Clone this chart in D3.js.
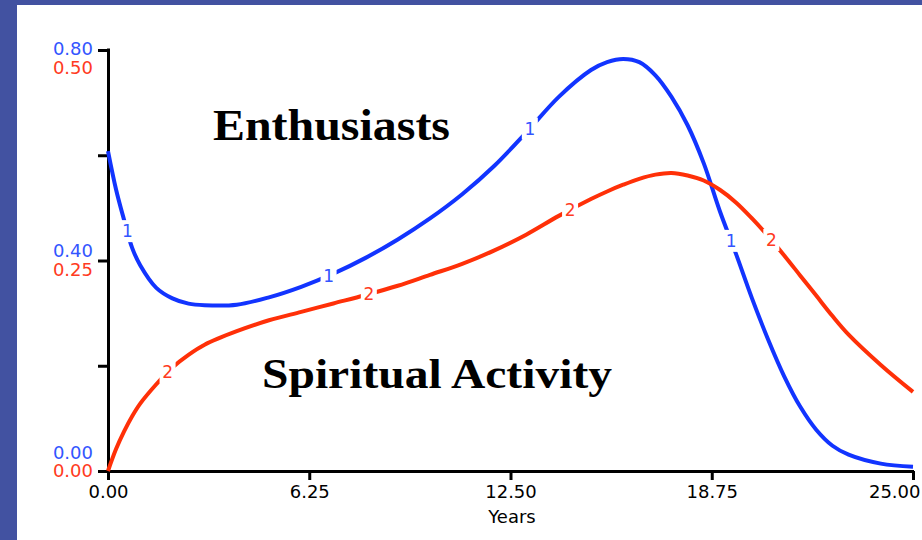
<!DOCTYPE html>
<html>
<head>
<meta charset="utf-8">
<script src="https://d3js.org/d3.v7.min.js"></script>
<style>
  body { margin: 0; background: #fff; }
  svg { display: block; }
  .tick-label { font-family: "DejaVu Sans", sans-serif; font-size: 18px; }
  .title { font-family: "Liberation Serif", "Times New Roman", serif; font-weight: bold; fill: #000; }
</style>
</head>
<body>
<svg id="chart" width="922" height="540"></svg>
<script>
// time axis (years) shared by both series
const years = [0, 0.25, 0.5, 0.75, 1, 1.5, 2, 2.5, 3, 4, 5, 6, 7, 8, 9, 10, 11, 12, 13, 14, 15,
  15.5, 16, 16.5, 17, 17.5, 18, 18.5, 19, 19.5, 20, 20.5, 21, 21.5, 22, 22.5, 23, 24, 25];
// series 1 : Enthusiasts (0 - 0.80 scale)
const enthusiasts = [0.608, 0.535, 0.477, 0.424, 0.391, 0.348, 0.328, 0.318, 0.315, 0.316, 0.330,
  0.350, 0.375, 0.405, 0.440, 0.480, 0.526, 0.580, 0.644, 0.711, 0.762, 0.777, 0.783, 0.777, 0.752,
  0.711, 0.657, 0.585, 0.494, 0.413, 0.328, 0.250, 0.180, 0.122, 0.078, 0.048, 0.031, 0.014, 0.008];
// series 2 : Spiritual Activity (0 - 0.50 scale)
const spiritual = [0, 0.026, 0.047, 0.065, 0.080, 0.103, 0.123, 0.138, 0.150, 0.166, 0.179,
  0.189, 0.199, 0.209, 0.220, 0.233, 0.246, 0.262, 0.281, 0.303, 0.323, 0.332, 0.340, 0.347, 0.352,
  0.354, 0.351, 0.345, 0.334, 0.319, 0.300, 0.279, 0.256, 0.232, 0.208, 0.184, 0.162, 0.126, 0.094];

const xTicks = [0, 6.25, 12.5, 18.75, 25];
const yTicks1 = [0, 0.2, 0.4, 0.6, 0.8];
const yLabels1 = [0, 0.4, 0.8];
const yLabels2 = [0, 0.25, 0.5];
const markers1 = [0.6, 6.85, 13.1, 19.35];
const markers2 = [1.85, 8.1, 14.35, 20.6];

const blue = "#1234ff", red = "#ff3008";
const blueText = "#3355ff", redText = "#ff3a22";

const svg = d3.select("#chart");

// frame
svg.append("rect").attr("x", 0).attr("y", 0).attr("width", 922).attr("height", 540).attr("fill", "#fff");
svg.append("rect").attr("x", 0).attr("y", 0).attr("width", 17).attr("height", 540).attr("fill", "#4252a1");
svg.append("rect").attr("x", 0).attr("y", 0).attr("width", 922).attr("height", 5).attr("fill", "#4252a1");

const x = d3.scaleLinear().domain([0, 25]).range([108, 913]);
const y1 = d3.scaleLinear().domain([0, 0.8]).range([471, 50]);
const y2 = d3.scaleLinear().domain([0, 0.5]).range([471, 50]);

// axes
const xAxis = svg.append("g").attr("transform", "translate(0,471)")
  .call(d3.axisBottom(x).tickValues(xTicks).tickSize(9).tickSizeOuter(0).tickFormat(d3.format(".2f")));
const yAxis = svg.append("g").attr("transform", "translate(108,0)")
  .call(d3.axisLeft(y1).tickValues(yTicks1).tickSize(10).tickSizeOuter(0).tickFormat(""));
[xAxis, yAxis].forEach(g => {
  g.select(".domain").attr("stroke", "#000").attr("stroke-width", 3);
  g.selectAll(".tick line").attr("stroke", "#000").attr("stroke-width", 3);
});
xAxis.select(".domain").attr("d", "M98,0.5H914");
yAxis.select(".domain").attr("d", "M0.5,48.5V480");
xAxis.selectAll(".tick text")
  .attr("class", "tick-label").attr("fill", "#000").attr("y", 27).attr("dy", 0)
  .style("font-family", "DejaVu Sans").style("font-size", "18px");
// last label is pushed inside the frame
xAxis.selectAll(".tick text").filter(d => d === 25).attr("text-anchor", "end").attr("x", 7);

svg.append("text").attr("class", "tick-label").attr("x", 512).attr("y", 523)
  .attr("text-anchor", "middle").attr("fill", "#000").text("Years");

// left labels, blue over red at each labelled tick
const offBlue = [-12, -4, 5], offRed = [6, 15, 24];
yLabels1.forEach((v, i) => {
  svg.append("text").attr("class", "tick-label").attr("x", 93).attr("y", y1(v) + offBlue[i])
    .attr("text-anchor", "end").attr("fill", blueText).text(v.toFixed(2));
});
yLabels2.forEach((v, i) => {
  svg.append("text").attr("class", "tick-label").attr("x", 93).attr("y", y2(v) + offRed[i])
    .attr("text-anchor", "end").attr("fill", redText).text(v.toFixed(2));
});

// lines
function drawSeries(vals, yScale, color, textColor, markers, label) {
  const line = d3.line().x((d, i) => x(years[i])).y(d => yScale(d)).curve(d3.curveCatmullRom.alpha(0.5));
  svg.append("path").datum(vals).attr("d", line)
    .attr("fill", "none").attr("stroke", color).attr("stroke-width", 4);
  const interp = t => {
    const j = Math.max(1, d3.bisectLeft(years, t));
    const a = years[j - 1], b = years[j];
    return vals[j - 1] + (vals[j] - vals[j - 1]) * (t - a) / (b - a);
  };
  markers.forEach(t => {
    const px = x(t), py = yScale(interp(t));
    svg.append("rect").attr("x", px - 8).attr("y", py - 11).attr("width", 16).attr("height", 22).attr("fill", "#fff");
    svg.append("text").attr("class", "tick-label").attr("x", px).attr("y", py + 6)
      .attr("text-anchor", "middle").attr("fill", textColor).style("font-size", "17px").text(label);
  });
}
drawSeries(enthusiasts, y1, blue, blueText, markers1, "1");
drawSeries(spiritual, y2, red, redText, markers2, "2");

// annotations
svg.append("text").attr("class", "title").attr("x", 213).attr("y", 140)
  .attr("font-size", 44).attr("textLength", 237).attr("lengthAdjust", "spacingAndGlyphs").text("Enthusiasts");
svg.append("text").attr("class", "title").attr("x", 262).attr("y", 388)
  .attr("font-size", 42).attr("textLength", 350).attr("lengthAdjust", "spacingAndGlyphs").text("Spiritual Activity");
</script>
</body>
</html>
